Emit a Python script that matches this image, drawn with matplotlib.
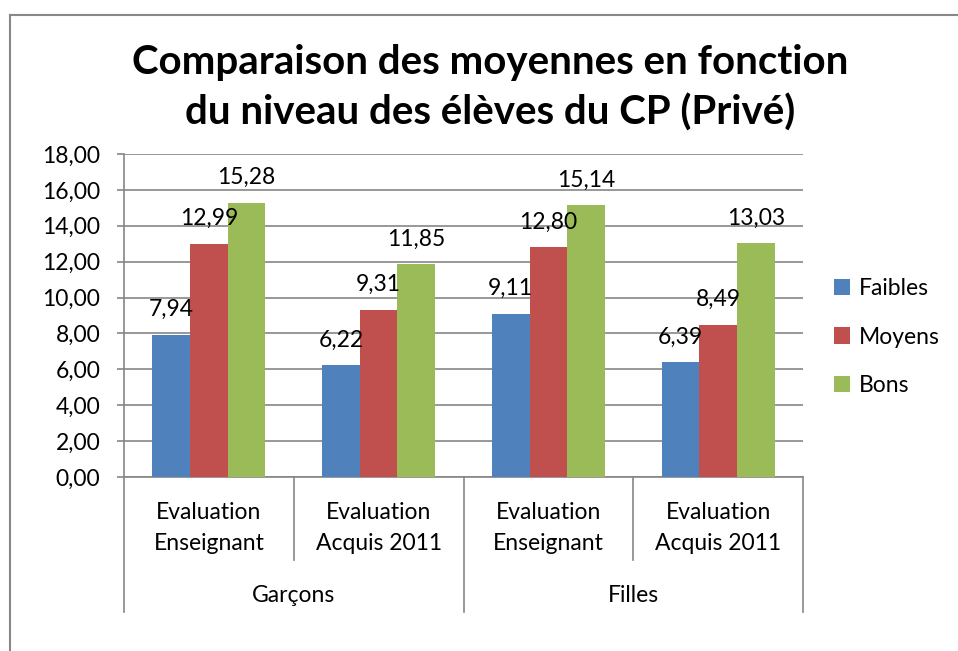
import matplotlib
matplotlib.use("Agg")
import matplotlib.pyplot as plt
from matplotlib.lines import Line2D
from matplotlib.transforms import blended_transform_factory
import numpy as np

plt.rcParams['font.family'] = ['Lato', 'DejaVu Sans']

title_lines = ["Comparaison des moyennes en fonction", "du niveau des élèves du CP (Privé)"]
subcategories = ["Evaluation\nEnseignant", "Evaluation\nAcquis 2011", "Evaluation\nEnseignant", "Evaluation\nAcquis 2011"]
groups = ["Garçons", "Filles"]
series_names = ["Faibles", "Moyens", "Bons"]
faibles = [7.94, 6.22, 9.11, 6.39]
moyens = [12.99, 9.31, 12.80, 8.49]
bons = [15.28, 11.85, 15.14, 13.03]
yticks = [0, 2, 4, 6, 8, 10, 12, 14, 16, 18]
colors = ["#4F81BD", "#C0504D", "#9BBB59"]

FS = 16.5

W, H = 958, 651
fig = plt.figure(figsize=(W / 100, H / 100), dpi=100)
fig.patch.set_facecolor("white")

# outer chart frame (left + top visible)
frame_c = "#888888"
fig.add_artist(Line2D([10 / W, 10 / W], [0, 1 - 15 / H], transform=fig.transFigure, color=frame_c, lw=1.5))
fig.add_artist(Line2D([10 / W, 1], [1 - 15 / H, 1 - 15 / H], transform=fig.transFigure, color=frame_c, lw=1.5))

L, R, T, B = 124, 803, 154, 477
ax = fig.add_axes([L / W, 1 - B / H, (R - L) / W, (B - T) / H])
ax.set_xlim(-0.5, 3.5)
ax.set_ylim(0, 18)

grid_c = "#868686"
bw = 1 / 4.5
x = np.arange(len(subcategories))
for i, (vals, name, c) in enumerate(zip([faibles, moyens, bons], series_names, colors)):
    ax.bar(x + (i - 1) * bw, vals, width=bw, color=c, label=name, zorder=3, linewidth=0)
    for xi, v in zip(x + (i - 1) * bw, vals):
        ax.annotate(f"{v:.2f}".replace(".", ","), (xi, v), xytext=(0, 13.5), textcoords="offset points",
                    ha="center", va="baseline", fontsize=FS, color="black", zorder=4)

ax.set_yticks(yticks)
ax.set_yticklabels([f"{t:.2f}".replace(".", ",") for t in yticks], fontsize=FS)
for lab in ax.get_yticklabels():
    lab.set_verticalalignment("center_baseline")
ax.yaxis.grid(True, color=grid_c, lw=1.2, zorder=0)
ax.tick_params(axis="y", direction="out", length=5, width=1.2, color=grid_c, pad=12)
ax.set_xticks([])
for s in ["top", "right"]:
    ax.spines[s].set_visible(False)
for s in ["left", "bottom"]:
    ax.spines[s].set_color(grid_c)
    ax.spines[s].set_linewidth(1.2)

# multi-level category axis
tr = blended_transform_factory(ax.transData, ax.transAxes)
ph = B - T
y_sub = -(560 - B) / ph
y_grp = -(612 - B) / ph
for xs in [0.5, 2.5]:
    ax.add_line(Line2D([xs, xs], [0, y_sub], transform=tr, color=grid_c, lw=1.2, clip_on=False))
for xs in [-0.5, 1.5, 3.5]:
    ax.add_line(Line2D([xs, xs], [0, y_grp], transform=tr, color=grid_c, lw=1.2, clip_on=False))
for xi, lab in zip(x, subcategories):
    ax.text(xi, -(528 - B) / ph, lab, transform=tr, ha="center", va="center", fontsize=FS, linespacing=1.55)
for gi, g in enumerate(groups):
    ax.text(gi * 2 + 0.5, -(596 - B) / ph, g, transform=tr, ha="center", va="center", fontsize=FS)

# title
fig.text(490 / W, 1 - 74 / H, title_lines[0], ha="center", va="baseline", fontsize=29, fontweight="bold")
fig.text(490 / W, 1 - 125 / H, title_lines[1], ha="center", va="baseline", fontsize=29, fontweight="bold")

leg = ax.legend(loc="center left", bbox_to_anchor=(834 / W, 1 - 337 / H), bbox_transform=fig.transFigure,
                frameon=False, fontsize=FS, handlelength=0.7, handleheight=0.7, handletextpad=0.4,
                labelspacing=1.2, borderpad=0, borderaxespad=0)

fig.savefig("out.png", dpi=100)
